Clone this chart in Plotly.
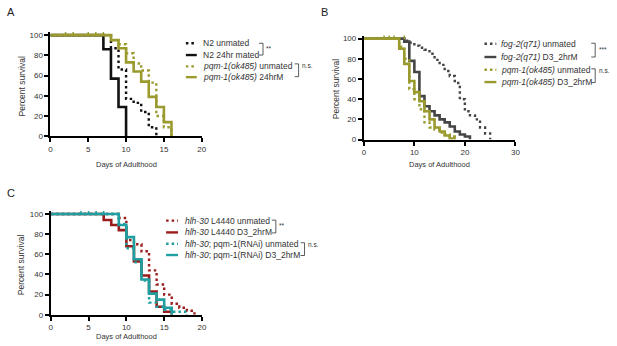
import plotly.graph_objects as go

W, H = 617, 346
FONT = "Liberation Sans, Arial, sans-serif"

# ---------------- data ----------------
# Panel A
a_n2_unmated_days = [0, 8, 9, 10, 11, 12, 13, 14]
a_n2_unmated_surv = [100, 87, 66, 37, 33, 24, 9, 0]
a_n2_mated_days = [0, 7, 8, 9, 10]
a_n2_mated_surv = [100, 86, 57, 29, 0]
a_pqm_unmated_days = [0, 8, 9, 10, 11, 12, 13, 14, 15, 16]
a_pqm_unmated_surv = [100, 95, 91, 82, 72, 65, 53, 20, 9, 0]
a_pqm_mated_days = [0, 8, 9, 10, 11, 12, 13, 14, 15, 16]
a_pqm_mated_surv = [100, 95, 87, 73, 64, 54, 39, 29, 14, 0]
a_censor_days = [2, 3, 5, 6, 7]

# Panel B
b_fog_unmated_days = [0, 8, 9, 10, 11, 12, 13, 14, 15, 16, 17, 18, 19, 20, 21, 22, 23, 24, 25]
b_fog_unmated_surv = [100, 98, 96, 93, 91, 89, 85, 79, 74, 68, 63, 56, 40, 28, 24, 20, 12, 6, 0]
b_fog_mated_days = [0, 8, 9, 10, 11, 12, 13, 14, 15, 16, 17, 18, 19, 20, 21]
b_fog_mated_surv = [100, 97, 78, 67, 43, 33, 28, 24, 20, 17, 13, 8, 5, 3, 0]
b_pqm_unmated_days = [0, 7, 8, 9, 10, 11, 12, 13, 14, 15, 16, 17, 18]
b_pqm_unmated_surv = [100, 92, 80, 50, 40, 30, 17, 12, 10, 7, 5, 3, 0]
b_pqm_mated_days = [0, 7, 8, 9, 10, 11, 12, 13, 14, 15, 16, 17, 18]
b_pqm_mated_surv = [100, 90, 75, 58, 47, 38, 28, 20, 12, 8, 4, 1, 0]
b_censor_days = [4, 5, 6, 8]

# Panel C
c_l4440_unmated_days = [0, 9, 10, 11, 12, 13, 14, 15, 16, 17, 18, 19]
c_l4440_unmated_surv = [100, 96, 74, 70, 63, 44, 30, 20, 11, 7, 4, 0]
c_l4440_mated_days = [0, 7, 8, 9, 10, 11, 12, 13, 14, 15, 16]
c_l4440_mated_surv = [100, 94, 89, 84, 68, 53, 39, 23, 8, 3, 0]
c_pqm_unmated_days = [0, 9, 10, 11, 12, 13, 14, 15, 16, 17, 18]
c_pqm_unmated_surv = [100, 90, 66, 52, 34, 12, 8, 5, 3, 3, 0]
c_pqm_mated_days = [0, 9, 10, 11, 12, 13, 14, 15, 16]
c_pqm_mated_surv = [100, 89, 77, 55, 35, 21, 15, 7, 0]
c_censor_days = [4, 5, 6, 7]

a_names = ["N2 unmated", "N2 24hr mated",
           "<i>pqm-1(ok485)</i> unmated", "<i>pqm-1(ok485)</i> 24hrM"]
b_names = ["<i>fog-2(q71)</i> unmated", "<i>fog-2(q71)</i> D3_2hrM",
           "<i>pqm-1(ok485)</i> unmated", "<i>pqm-1(ok485)</i> D3_2hrM"]
c_names = ["<i>hlh-30</i> L4440 unmated", "<i>hlh-30</i> L4440 D3_2hrM",
           "<i>hlh-30</i>; pqm-1(RNAi) unmated", "<i>hlh-30</i>; pqm-1(RNAi) D3_2hrM"]

BLACK = "#111111"
OLIVE = "#9a9a2e"
GREY = "#454545"
RED = "#9a1c1c"
TEAL = "#1f9f9f"
DOT = "2.5px,3px"


def px(x):
    return x / W


def py(y):
    return 1 - y / H


fig = go.Figure()

panels = [
    dict(x="x", y="y", left=49, right=202, y0=137.7, y100=34.7, xmax=20, dtick=5,
         series=[(a_n2_unmated_days, a_n2_unmated_surv, BLACK, True),
                 (a_n2_mated_days, a_n2_mated_surv, BLACK, False),
                 (a_pqm_unmated_days, a_pqm_unmated_surv, OLIVE, True),
                 (a_pqm_mated_days, a_pqm_mated_surv, OLIVE, False)],
         names=a_names, censor=(a_censor_days, OLIVE),
         label="A", label_xy=(9, 11), ytitle_x=20, xtitle_y=166,
         leg_x=(186, 197), txt_x=201, rows=[43, 55, 66.5, 77.5],
         brackets=[(260, 264, 43, 55, "**", 1), (296, 300, 64, 77, "n.s.", 0)]),
    dict(x="x2", y="y2", left=366, right=519.3, y0=141, y100=38.3, xmax=30, dtick=10,
         series=[(b_fog_unmated_days, b_fog_unmated_surv, GREY, True),
                 (b_fog_mated_days, b_fog_mated_surv, GREY, False),
                 (b_pqm_unmated_days, b_pqm_unmated_surv, OLIVE, True),
                 (b_pqm_mated_days, b_pqm_mated_surv, OLIVE, False)],
         names=b_names, censor=(b_censor_days, OLIVE),
         label="B", label_xy=(326, 11), ytitle_x=338, xtitle_y=166,
         leg_x=(488, 500), txt_x=503, rows=[43.5, 57, 70, 82.5],
         brackets=[(596, 600, 43, 57, "***", 1), (596, 600, 69, 83, "n.s.", 0)]),
    dict(x="x3", y="y3", left=49.3, right=202.3, y0=319.3, y100=216.7, xmax=20, dtick=5,
         series=[(c_l4440_unmated_days, c_l4440_unmated_surv, RED, True),
                 (c_l4440_mated_days, c_l4440_mated_surv, RED, False),
                 (c_pqm_unmated_days, c_pqm_unmated_surv, TEAL, True),
                 (c_pqm_mated_days, c_pqm_mated_surv, TEAL, False)],
         names=c_names, censor=(c_censor_days, TEAL),
         label="C", label_xy=(9, 195), ytitle_x=20, xtitle_y=341.5,
         leg_x=(166, 178), txt_x=183, rows=[223.5, 235.5, 247, 258.5],
         brackets=[(273, 277, 223, 236, "**", 1), (302, 306, 246, 259, "n.s.", 0)]),
]

layout_axes = {}
annotations = []
shapes = []


def ann(text, x, y, size, xanchor="center", angle=0, color="#333"):
    return dict(text=text, x=px(x), y=py(y), xref="paper", yref="paper",
                xanchor=xanchor, yanchor="middle", showarrow=False, textangle=angle,
                font=dict(size=size, family=FONT, color=color))


for i, p in enumerate(panels):
    for days, surv, color, dotted in p["series"]:
        fig.add_trace(go.Scatter(
            x=days, y=surv, xaxis=p["x"], yaxis=p["y"], mode="lines",
            line=dict(shape="hv", color=color, width=2.6 if not dotted else 2.4,
                      dash=DOT if dotted else "solid"),
            showlegend=False, hoverinfo="skip"))
    cd, cc = p["censor"]
    fig.add_trace(go.Scatter(
        x=cd, y=[101.5] * len(cd), xaxis=p["x"], yaxis=p["y"], mode="markers",
        marker=dict(symbol="line-ns", size=3, line=dict(width=1.5, color=cc)),
        showlegend=False, hoverinfo="skip"))

    suffix = "" if i == 0 else str(i + 1)
    ytop = p["y0"] - (p["y0"] - p["y100"]) * 1.03
    common = dict(showgrid=False, zeroline=False, showline=True, linecolor="black",
                  linewidth=2, ticks="outside", ticklen=4, tickwidth=1.5,
                  tickcolor="black", tickfont=dict(size=8, color="#333", family=FONT))
    layout_axes["xaxis" + suffix] = dict(
        domain=[px(p["left"]), px(p["right"])], range=[0, p["xmax"]],
        tickvals=list(range(0, p["xmax"] + 1, p["dtick"])),
        anchor="y" + suffix, **common)
    layout_axes["yaxis" + suffix] = dict(
        domain=[py(p["y0"]), py(ytop)], range=[0, 103],
        tickvals=[0, 20, 40, 60, 80, 100], anchor="x" + suffix, **common)

    annotations.append(ann(p["label"], p["label_xy"][0], p["label_xy"][1], 11, color="#222"))
    annotations.append(ann("Percent survival", p["ytitle_x"], (p["y0"] + p["y100"]) / 2,
                           8.5, angle=-90))
    annotations.append(ann("Days of Adulthood", (p["left"] + p["right"]) / 2,
                           p["xtitle_y"], 7.5))
    # legend
    for (days, surv, color, dotted), name, ry in zip(p["series"], p["names"], p["rows"]):
        shapes.append(dict(type="line", xref="paper", yref="paper",
                           x0=px(p["leg_x"][0]), x1=px(p["leg_x"][1]), y0=py(ry), y1=py(ry),
                           line=dict(color=color, width=2.4, dash=DOT if dotted else "solid")))
        annotations.append(ann(name, p["txt_x"], ry, 8.5, xanchor="left"))
    for xl, xr, yt, yb, lab, mid in p["brackets"]:
        shapes.append(dict(type="path", xref="paper", yref="paper",
                           path=f"M {px(xl)},{py(yt)} L {px(xr)},{py(yt)} L {px(xr)},{py(yb)} L {px(xl)},{py(yb)}",
                           line=dict(color="#333", width=0.8)))
        annotations.append(ann(lab, xr + 1.5, (yt + yb) / 2 - 1 if mid else yt + 2,
                               6.5, xanchor="left"))

fig.update_layout(
    width=W, height=H, margin=dict(l=0, r=0, t=0, b=0),
    paper_bgcolor="white", plot_bgcolor="white",
    annotations=annotations, shapes=shapes, showlegend=False,
    **layout_axes)

fig.write_html("out.html", config={"displayModeBar": False},
               post_script="document.body.style.margin='0';document.body.style.overflow='hidden';")
